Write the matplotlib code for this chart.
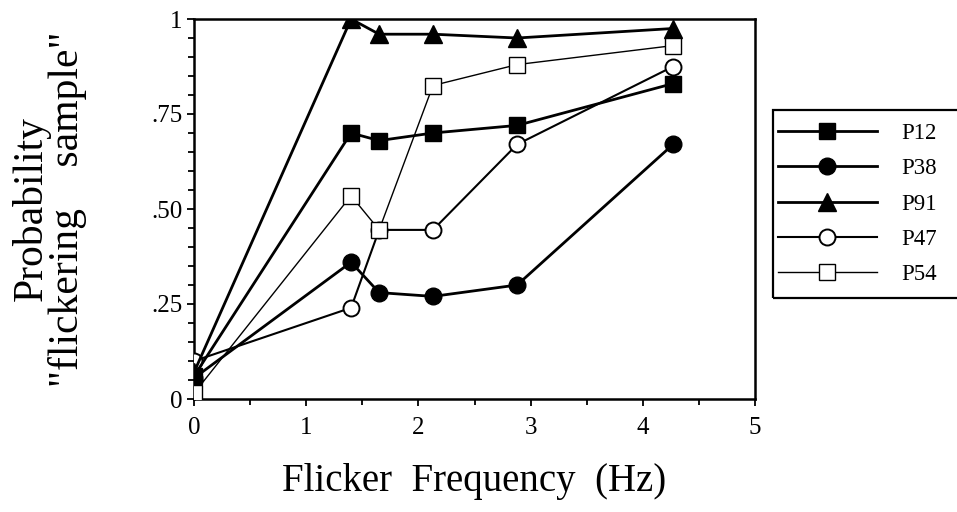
import matplotlib
matplotlib.use("Agg")
import matplotlib.pyplot as plt
from matplotlib.patches import Rectangle
from matplotlib.ticker import MultipleLocator, FixedLocator, FixedFormatter

plt.rcParams['font.family'] = ['Liberation Serif', 'DejaVu Serif']

# flicker frequencies (Hz) and response probabilities per subject
freq = [0.0, 1.4, 1.65, 2.13, 2.88, 4.27]
p12 = [0.06, 0.70, 0.68, 0.70, 0.72, 0.83]
p38 = [0.055, 0.36, 0.28, 0.27, 0.30, 0.67]
p91 = [0.07, 1.00, 0.96, 0.96, 0.95, 0.975]
p47 = [0.10, 0.24, 0.445, 0.445, 0.67, 0.875]
p54 = [0.015, 0.535, 0.445, 0.825, 0.88, 0.93]

ytick_vals = [0, 0.25, 0.5, 0.75, 1.0]
ytick_text = ['0', '.25', '.50', '.75', '1']

fig = plt.figure(figsize=(9.57, 5.12), dpi=100)
ax = fig.add_axes([194/957, 1 - 399/512, (755-194)/957, (399-19)/512])

ax.plot(freq, p12, '-', color='black', lw=2.0, marker='s', ms=12, mfc='black', mec='black', label='P12', zorder=4)
ax.plot(freq, p38, '-', color='black', lw=2.0, marker='o', ms=12, mfc='black', mec='black', label='P38', zorder=4)
ax.plot(freq, p91, '-', color='black', lw=2.0, marker='^', ms=12.5, mfc='black', mec='black', label='P91', zorder=4)
ax.plot(freq, p47, '-', color='black', lw=1.5, marker='o', ms=11.5, mfc='white', mec='black', mew=1.4, label='P47', zorder=3)
ax.plot(freq, p54, '-', color='black', lw=1.0, marker='s', ms=11, mfc='white', mec='black', mew=1.0, label='P54', zorder=5)

ax.set_xlim(0, 5)
ax.set_ylim(0, 1)
ax.xaxis.set_major_locator(MultipleLocator(1))
ax.xaxis.set_minor_locator(MultipleLocator(0.5))
ax.yaxis.set_major_locator(FixedLocator(ytick_vals))
ax.yaxis.set_major_formatter(FixedFormatter(ytick_text))
ax.yaxis.set_minor_locator(MultipleLocator(0.05))
ax.tick_params(which='both', direction='out', width=1.3, colors='black', labelsize=18)
ax.tick_params(which='major', length=5)
ax.tick_params(axis='x', which='major', pad=8)
ax.tick_params(which='minor', length=4)
for s in ax.spines.values():
    s.set_linewidth(1.8)

ax.set_xlabel('Flicker  Frequency  (Hz)', fontsize=28, labelpad=17)
ax.set_ylabel('Probability\n"flickering    sample"', fontsize=30, labelpad=46, linespacing=0.9)

# legend box runs off the right edge of the figure
fig.patches.append(Rectangle((773/957, 1 - 298/512), 0.3, (298-110)/512,
                             transform=fig.transFigure, fill=False,
                             edgecolor='black', lw=1.6, clip_on=False))
fig.legend(loc='upper left', bbox_to_anchor=(778/957, 1 - 123/512),
           frameon=False, fontsize=16.5, handlelength=4.3, handletextpad=1.1,
           labelspacing=0.62, borderaxespad=0, borderpad=0, markerscale=1.0)

fig.savefig('out.png', dpi=100)
